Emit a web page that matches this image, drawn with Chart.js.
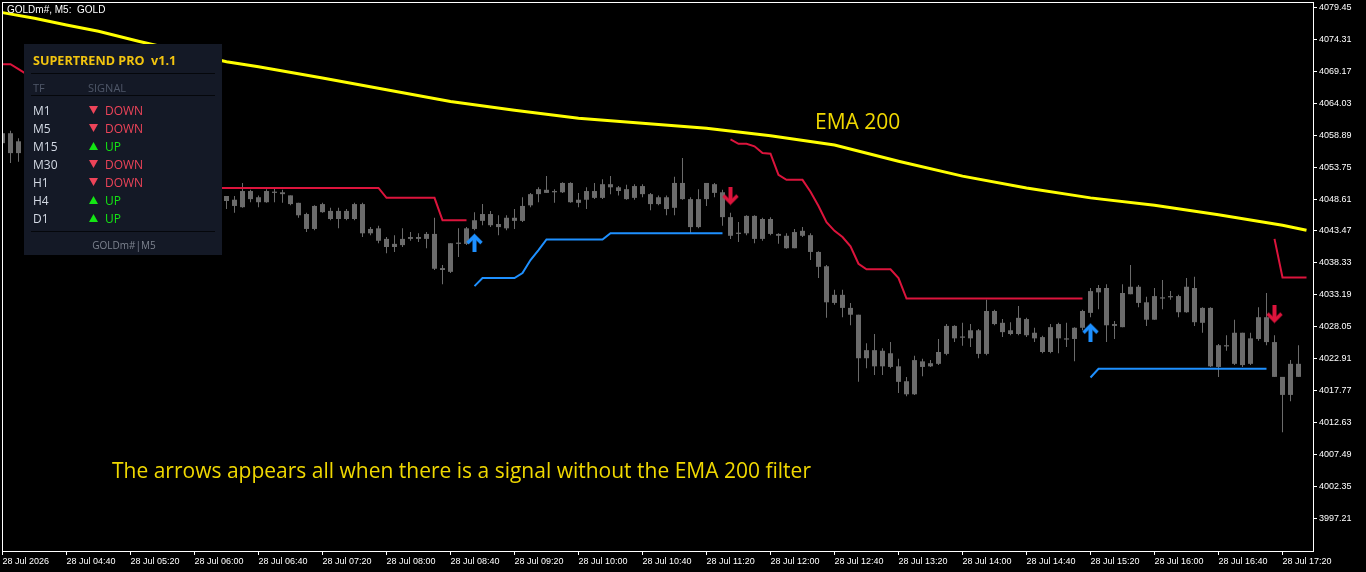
<!DOCTYPE html>
<html>
<head>
<meta charset="utf-8">
<title>GOLDm# M5 - Supertrend Pro</title>
<script src="https://cdn.jsdelivr.net/npm/chart.js@4.4.1/dist/chart.umd.min.js"></script>
<style>
  html, body { margin: 0; padding: 0; background: #000; overflow: hidden; }
</style>
</head>
<body>
<canvas id="chart" width="1366" height="572"></canvas>
<script>
// price scale labels (right side) and time labels (every 8 bars of M5)
const priceTicks = [4079.45, 4074.31, 4069.17, 4064.03, 4058.89, 4053.75, 4048.61, 4043.47, 4038.33,
  4033.19, 4028.05, 4022.91, 4017.77, 4012.63, 4007.49, 4002.35, 3997.21];
const timeTickBars = [0, 8, 16, 24, 32, 40, 48, 56, 64, 72, 80, 88, 96, 104, 112, 120, 128, 136, 144, 152, 160];
const timeTickLabels = ['28 Jul 2026', '28 Jul 04:40', '28 Jul 05:20', '28 Jul 06:00', '28 Jul 06:40',
  '28 Jul 07:20', '28 Jul 08:00', '28 Jul 08:40', '28 Jul 09:20', '28 Jul 10:00', '28 Jul 10:40',
  '28 Jul 11:20', '28 Jul 12:00', '28 Jul 12:40', '28 Jul 13:20', '28 Jul 14:00', '28 Jul 14:40',
  '28 Jul 15:20', '28 Jul 16:00', '28 Jul 16:40', '28 Jul 17:20'];

// candles, one per M5 bar from 04:00 (bars 3-27 sit behind the panel)
const openPx = [
  4057.6, 4059.2, 4056.0, null, null, null, null, null, null, null,
  null, null, null, null, null, null, null, null, null, null,
  null, null, null, null, null, null, null, null, 4049.1, 4048.5,
  4047.3, 4049.9, 4048.1, 4048.1, 4049.8, 4049.7, 4049.2, 4048.0, 4046.2, 4043.8,
  4047.8, 4046.7, 4045.4, 4046.7, 4045.4, 4047.8, 4043.1, 4043.9, 4042.2, 4040.9,
  4041.2, 4042.2, 4042.5, 4042.2, 4043.0, 4037.5, 4036.9, 4041.6, 4041.4, 4043.8,
  4045.1, 4046.2, 4044.6, 4043.9, 4045.6, 4045.1, 4047.6, 4049.4, 4050.1, 4049.7,
  4049.7, 4051.2, 4048.0, 4048.5, 4049.9, 4048.8, 4051.0, 4050.5, 4050.2, 4048.8,
  4050.7, 4049.4, 4047.8, 4048.9, 4047.2, 4051.2, 4048.6, 4044.1, 4048.6, 4051.0,
  4049.7, 4045.7, 4043.2, 4043.1, 4045.9, 4042.2, 4045.4, 4043.0, 4042.7, 4040.7,
  4043.5, 4042.8, 4040.1, 4037.8, 4031.9, 4033.2, 4031.1, 4030.0, 4023.0, 4024.3,
  4021.7, 4023.8, 4021.7, 4019.3, 4017.2, 4022.5, 4021.7, 4022.1, 4023.7, 4028.2,
  4026.3, 4026.2, 4027.5, 4023.7, 4030.6, 4028.7, 4027.5, 4026.9, 4029.3, 4027.1,
  4026.4, 4024.0, 4028.5, 4026.2, 4026.1, 4027.9, 4030.3, 4033.6, 4034.3, 4028.2,
  4028.0, 4033.3, 4034.5, 4032.0, 4029.2, 4032.8, 4032.8, 4033.0, 4030.4, 4034.3,
  4028.7, 4031.1, 4021.6, 4024.9, 4027.1, 4021.9, 4026.2, 4026.1, 4029.6, 4025.6,
  4020.0, 4017.1, 4022.1
];
const highPx = [
  4059.3, 4059.6, 4058.4, null, null, null, null, null, null, null,
  null, null, null, null, null, null, null, null, null, null,
  null, null, null, null, null, null, null, null, 4049.1, 4049.1,
  4051.2, 4050.1, 4049.2, 4050.2, 4050.5, 4050.1, 4049.2, 4048.0, 4046.4, 4047.6,
  4048.0, 4047.2, 4047.2, 4047.0, 4048.0, 4048.0, 4044.1, 4044.3, 4042.5, 4042.8,
  4043.9, 4043.3, 4043.1, 4043.3, 4045.6, 4038.0, 4041.5, 4043.9, 4044.1, 4046.5,
  4047.8, 4046.7, 4046.0, 4046.0, 4047.0, 4048.9, 4049.6, 4050.5, 4052.3, 4050.2,
  4051.3, 4051.3, 4049.6, 4050.5, 4051.2, 4051.8, 4052.3, 4050.7, 4050.9, 4051.0,
  4051.0, 4049.6, 4049.2, 4049.2, 4052.2, 4055.2, 4048.9, 4050.2, 4051.2, 4051.2,
  4050.1, 4046.4, 4044.9, 4046.0, 4046.0, 4045.6, 4045.7, 4043.1, 4043.1, 4043.8,
  4044.1, 4043.1, 4040.2, 4038.0, 4034.0, 4034.0, 4031.9, 4030.0, 4025.4, 4026.9,
  4024.6, 4025.6, 4022.9, 4020.0, 4023.4, 4022.9, 4022.7, 4026.1, 4028.5, 4028.3,
  4028.7, 4028.5, 4027.7, 4032.4, 4030.8, 4029.3, 4028.8, 4031.4, 4029.5, 4027.9,
  4026.6, 4028.5, 4028.7, 4028.7, 4028.0, 4030.8, 4034.3, 4034.8, 4034.9, 4029.0,
  4034.9, 4038.0, 4034.8, 4032.9, 4034.3, 4035.6, 4033.8, 4033.2, 4035.9, 4036.1,
  4031.2, 4031.2, 4025.3, 4026.7, 4029.2, 4027.1, 4027.1, 4031.2, 4033.5, 4026.7,
  4020.0, 4022.7, 4025.1
];
const lowPx = [
  4057.5, 4054.4, 4054.6, null, null, null, null, null, null, null,
  null, null, null, null, null, null, null, null, null, null,
  null, null, null, null, null, null, null, null, 4047.0, 4046.4,
  4047.2, 4048.1, 4047.3, 4048.0, 4048.1, 4048.0, 4047.6, 4045.6, 4043.3, 4043.6,
  4046.4, 4045.2, 4043.9, 4045.2, 4045.2, 4042.5, 4042.8, 4041.5, 4039.9, 4040.1,
  4040.9, 4041.9, 4041.7, 4040.7, 4037.2, 4034.9, 4036.7, 4039.3, 4041.2, 4043.6,
  4044.4, 4044.1, 4042.8, 4043.6, 4043.8, 4044.9, 4047.3, 4048.1, 4049.6, 4048.0,
  4049.6, 4048.0, 4047.3, 4047.0, 4048.6, 4048.6, 4049.4, 4049.2, 4048.5, 4048.5,
  4048.9, 4046.8, 4047.6, 4046.0, 4046.0, 4048.5, 4043.1, 4043.9, 4047.5, 4048.9,
  4044.3, 4042.2, 4041.7, 4042.8, 4041.5, 4041.9, 4042.8, 4041.4, 4040.6, 4040.7,
  4042.5, 4038.8, 4035.9, 4029.5, 4031.6, 4029.6, 4028.3, 4019.2, 4021.4, 4020.3,
  4020.3, 4021.4, 4017.4, 4016.9, 4017.1, 4020.1, 4021.6, 4021.9, 4023.5, 4025.6,
  4025.0, 4024.8, 4023.0, 4023.5, 4028.3, 4026.4, 4026.7, 4026.7, 4026.4, 4025.6,
  4023.8, 4023.8, 4023.8, 4024.8, 4022.5, 4027.5, 4029.6, 4030.9, 4025.6, 4026.1,
  4028.0, 4033.3, 4031.2, 4028.2, 4029.2, 4030.9, 4032.4, 4029.6, 4030.3, 4028.2,
  4027.1, 4021.6, 4020.0, 4024.2, 4021.9, 4021.6, 4021.9, 4025.8, 4025.1, 4020.0,
  4011.1, 4016.1, 4020.0
];
const closePx = [
  4059.2, 4056.0, 4057.9, null, null, null, null, null, null, null,
  null, null, null, null, null, null, null, null, null, null,
  null, null, null, null, null, null, null, null, 4048.3, 4047.5,
  4049.9, 4048.6, 4048.9, 4049.9, 4049.6, 4049.4, 4047.8, 4046.0, 4043.8, 4047.5,
  4046.5, 4045.4, 4046.7, 4045.4, 4047.8, 4043.1, 4043.8, 4041.9, 4040.9, 4041.4,
  4042.2, 4042.5, 4042.2, 4043.0, 4037.4, 4037.2, 4041.5, 4041.4, 4043.9, 4045.2,
  4046.2, 4044.4, 4044.1, 4045.6, 4045.1, 4047.5, 4049.4, 4050.2, 4049.6, 4049.9,
  4051.2, 4048.1, 4048.5, 4049.9, 4048.8, 4051.0, 4050.5, 4049.9, 4048.6, 4050.7,
  4049.4, 4047.8, 4048.9, 4047.0, 4051.2, 4048.6, 4044.1, 4048.6, 4051.2, 4049.6,
  4045.7, 4042.7, 4043.0, 4045.9, 4042.2, 4045.4, 4043.0, 4042.7, 4040.7, 4043.3,
  4042.7, 4040.1, 4037.7, 4032.0, 4033.2, 4031.1, 4030.0, 4023.0, 4024.3, 4021.7,
  4024.2, 4021.6, 4019.2, 4017.2, 4022.7, 4021.6, 4022.2, 4024.0, 4028.2, 4026.2,
  4026.5, 4027.5, 4023.7, 4030.6, 4028.5, 4027.2, 4026.9, 4029.5, 4026.7, 4026.2,
  4024.0, 4028.0, 4026.2, 4026.0, 4027.9, 4030.6, 4033.8, 4034.3, 4028.3, 4028.5,
  4033.5, 4034.5, 4031.9, 4029.2, 4033.0, 4032.6, 4033.0, 4030.4, 4034.5, 4028.8,
  4031.1, 4021.7, 4025.1, 4025.1, 4022.1, 4027.1, 4022.1, 4029.6, 4025.6, 4020.0,
  4017.1, 4022.1, 4020.0
];

// supertrend: red above price (down trend), blue below price (up trend)
const bearLine = [
  4070.3, 4070.3, 4069.5, 4068.7, null, null, null, null, null, null,
  null, null, null, null, null, null, null, null, null, null,
  null, null, null, null, null, null, null, 4050.4, 4050.4, 4050.4,
  4050.4, 4050.4, 4050.4, 4050.4, 4050.4, 4050.4, 4050.4, 4050.4, 4050.4, 4050.4,
  4050.4, 4050.4, 4050.4, 4050.4, 4050.4, 4050.4, 4050.4, 4050.4, 4048.8, 4048.8,
  4048.8, 4048.8, 4048.8, 4048.8, 4048.8, 4045.2, 4045.2, 4045.2, 4045.2, null,
  null, null, null, null, null, null, null, null, null, null,
  null, null, null, null, null, null, null, null, null, null,
  null, null, null, null, null, null, null, null, null, null,
  null, 4058.2, 4057.5, 4057.5, 4057.1, 4056.0, 4055.9, 4052.5, 4051.7, 4051.7,
  4051.7, 4049.8, 4047.5, 4044.9, 4043.5, 4042.5, 4041.0, 4038.2, 4037.3, 4037.3,
  4037.3, 4037.3, 4035.9, 4032.6, 4032.6, 4032.6, 4032.6, 4032.6, 4032.6, 4032.6,
  4032.6, 4032.6, 4032.6, 4032.6, 4032.6, 4032.6, 4032.6, 4032.6, 4032.6, 4032.6,
  4032.6, 4032.6, 4032.6, 4032.6, 4032.6, 4032.6, null, null, null, null,
  null, null, null, null, null, null, null, null, null, null,
  null, null, null, null, null, null, null, null, null, 4042.2,
  4036.0, 4036.0, 4036.0, 4036.0
];
const bullLine = [
  null, null, null, null, null, null, null, null, null, null,
  null, null, null, null, null, null, null, null, null, null,
  null, null, null, null, null, null, null, null, null, null,
  null, null, null, null, null, null, null, null, null, null,
  null, null, null, null, null, null, null, null, null, null,
  null, null, null, null, null, null, null, null, null, 4034.6,
  4035.9, 4035.9, 4035.9, 4035.9, 4035.9, 4036.7, 4038.8, 4040.4, 4042.1, 4042.1,
  4042.1, 4042.1, 4042.1, 4042.1, 4042.1, 4042.1, 4043.1, 4043.1, 4043.1, 4043.1,
  4043.1, 4043.1, 4043.1, 4043.1, 4043.1, 4043.1, 4043.1, 4043.1, 4043.1, 4043.1,
  4043.1, null, null, null, null, null, null, null, null, null,
  null, null, null, null, null, null, null, null, null, null,
  null, null, null, null, null, null, null, null, null, null,
  null, null, null, null, null, null, null, null, null, null,
  null, null, null, null, null, null, 4019.9, 4021.3, 4021.3, 4021.3,
  4021.3, 4021.3, 4021.3, 4021.3, 4021.3, 4021.3, 4021.3, 4021.3, 4021.3, 4021.3,
  4021.3, 4021.3, 4021.3, 4021.3, 4021.3, 4021.3, 4021.3, 4021.3, 4021.3, null,
  null, null, null, null
];

// EMA 200 read at these bars
const emaBars = [0, 4, 8, 12, 17, 28, 32, 40, 48, 56, 64, 72, 80, 88, 96, 104, 112, 120, 128, 136, 144, 152, 160, 163];
const emaValues = [4078.6, 4077.7, 4076.6, 4075.6, 4074.0, 4070.7, 4069.9, 4068.1, 4066.2, 4064.3, 4062.9, 4061.6,
  4060.8, 4060.0, 4058.8, 4057.3, 4054.7, 4052.3, 4050.4, 4048.8, 4047.6, 4046.1, 4044.4, 4043.6];

// signal arrows
const buyArrowBars = [59, 136];
const buyArrowPrice = [4041.6, 4027.2];
const sellArrowBars = [91, 159];
const sellArrowPrice = [4049.1, 4030.1];

// panel rows
const panelTf = ['M1', 'M5', 'M15', 'M30', 'H1', 'H4', 'D1'];
const panelSignal = ['DOWN', 'DOWN', 'UP', 'DOWN', 'DOWN', 'UP', 'UP'];

const candleGray = '#6b6b6b';
const axisFont = { family: '"Liberation Sans", Arial, sans-serif', size: 9 };

const wicks = [];
const bodies = [];
for (let i = 0; i < openPx.length; i++) {
    if (openPx[i] === null) continue;
    wicks.push({ x: i, y: [lowPx[i], highPx[i]] });
    bodies.push({ x: i, y: [openPx[i], closePx[i]] });
}
const toPoints = arr => arr.map((v, i) => ({ x: i, y: v }));

function makeArrow(color, up) {
    const c = document.createElement('canvas');
    c.width = 17;
    c.height = 19;
    const g = c.getContext('2d');
    g.fillStyle = color;
    g.strokeStyle = color;
    if (!up) {
        g.translate(0, 19);
        g.scale(1, -1);
    }
    g.lineWidth = 3.5;
    g.beginPath();
    g.moveTo(1.5, 10);
    g.lineTo(8.5, 3);
    g.lineTo(15.5, 10);
    g.stroke();
    g.fillRect(6.5, 3, 4, 16);
    return c;
}

const blackBg = {
    id: 'blackBg',
    beforeDraw(chart) {
        const ctx = chart.ctx;
        ctx.save();
        ctx.fillStyle = '#000';
        ctx.fillRect(0, 0, chart.width, chart.height);
        ctx.restore();
    }
};

const overlay = {
    id: 'overlay',
    afterDraw(chart) {
        const ctx = chart.ctx;
        const a = chart.chartArea;
        ctx.save();

        // frame
        ctx.strokeStyle = '#ffffff';
        ctx.lineWidth = 1;
        ctx.strokeRect(a.left + 0.5, a.top + 0.5, a.right - a.left, a.bottom - a.top);

        // symbol caption
        ctx.fillStyle = '#ffffff';
        ctx.font = '10px "Liberation Sans", Arial, sans-serif';
        ctx.textBaseline = 'middle';
        ctx.fillText('GOLDm#, M5:  GOLD', 7, 10);

        // notes
        ctx.fillStyle = '#f0d800';
        ctx.font = '21px "Open Sans", sans-serif';
        ctx.fillText('EMA 200', 815, 123);
        ctx.fillText('The arrows appears all when there is a signal without the EMA 200 filter', 112, 472, 700);

        // dashboard panel
        ctx.fillStyle = '#141926';
        ctx.fillRect(24, 44, 198, 211);
        ctx.fillStyle = '#f2c40f';
        ctx.font = 'bold 12.6px "Open Sans", sans-serif';
        ctx.fillText('SUPERTREND PRO  v1.1', 33, 61);
        ctx.fillStyle = '#05070b';
        ctx.fillRect(31, 73, 184, 1);
        ctx.fillRect(31, 95, 184, 1);
        ctx.fillRect(31, 231, 184, 1);
        ctx.fillStyle = '#4f5768';
        ctx.font = '11px "Open Sans", sans-serif';
        ctx.fillText('TF', 33, 89);
        ctx.fillText('SIGNAL', 88, 89);

        ctx.font = '12px "Open Sans", sans-serif';
        panelTf.forEach((tf, k) => {
            const y = 110 + k * 18;
            const up = panelSignal[k] === 'UP';
            ctx.fillStyle = '#d3d9e4';
            ctx.fillText(tf, 33, y + 1.5);
            const col = up ? '#14e614' : '#ee4459';
            ctx.fillStyle = col;
            ctx.beginPath();
            if (up) {
                ctx.moveTo(89, y + 4);
                ctx.lineTo(98, y + 4);
                ctx.lineTo(93.5, y - 4);
            } else {
                ctx.moveTo(89, y - 4);
                ctx.lineTo(98, y - 4);
                ctx.lineTo(93.5, y + 4);
            }
            ctx.closePath();
            ctx.fill();
            ctx.fillText(panelSignal[k], 105, y + 1.5);
        });

        ctx.fillStyle = '#7d838f';
        ctx.font = '10px "Open Sans", sans-serif';
        ctx.textAlign = 'center';
        ctx.fillText('GOLDm#|M5', 124, 246);
        ctx.restore();
    }
};

new Chart(document.getElementById('chart').getContext('2d'), {
    type: 'bar',
    data: {
        datasets: [
            {
                type: 'line',
                label: 'Buy',
                data: buyArrowBars.map((b, k) => ({ x: b, y: buyArrowPrice[k] })),
                showLine: false,
                pointStyle: makeArrow('#1e90ff', true),
                pointRadius: 8,
                order: 0,
            },
            {
                type: 'line',
                label: 'Sell',
                data: sellArrowBars.map((b, k) => ({ x: b, y: sellArrowPrice[k] })),
                showLine: false,
                pointStyle: makeArrow('#dc143c', false),
                pointRadius: 8,
                order: 0,
            },
            {
                type: 'line',
                label: 'Supertrend down',
                data: toPoints(bearLine),
                borderColor: '#dc143c',
                borderWidth: 2,
                pointRadius: 0,
                spanGaps: false,
                tension: 0,
                order: 1,
            },
            {
                type: 'line',
                label: 'Supertrend up',
                data: toPoints(bullLine),
                borderColor: '#1e90ff',
                borderWidth: 2,
                pointRadius: 0,
                spanGaps: false,
                tension: 0,
                order: 1,
            },
            {
                type: 'line',
                label: 'EMA 200',
                data: emaBars.map((b, k) => ({ x: b, y: emaValues[k] })),
                borderColor: '#ffff00',
                borderWidth: 3,
                pointRadius: 0,
                tension: 0,
                order: 2,
            },
            {
                label: 'Body',
                data: bodies,
                backgroundColor: candleGray,
                borderWidth: 0,
                barThickness: 5,
                grouped: false,
                inflateAmount: 0,
                order: 3,
            },
            {
                label: 'Wick',
                data: wicks,
                backgroundColor: candleGray,
                borderWidth: 0,
                barThickness: 1,
                grouped: false,
                inflateAmount: 0,
                order: 4,
            },
        ],
    },
    options: {
        responsive: false,
        animation: false,
        events: [],
        layout: { autoPadding: false, padding: { left: 2, top: 2, right: 0, bottom: 0 } },
        plugins: {
            legend: { display: false },
            tooltip: { enabled: false },
        },
        scales: {
            x: {
                type: 'linear',
                position: 'bottom',
                min: -0.0625,
                max: 163.8125,
                bounds: 'data',
                offset: false,
                border: { display: false },
                grid: { drawOnChartArea: false, offset: false, tickLength: 4, color: '#ffffff', tickColor: '#ffffff' },
                ticks: {
                    color: '#ffffff',
                    font: axisFont,
                    padding: 1,
                    align: 'start',
                    autoSkip: false,
                    maxRotation: 0,
                    minRotation: 0,
                    callback: (v, i) => timeTickLabels[i],
                },
                afterBuildTicks: s => { s.ticks = timeTickBars.map(v => ({ value: v })); },
                afterFit: s => { s.height = 21; s.paddingLeft = 0; s.paddingRight = 0; },
            },
            y: {
                position: 'right',
                min: 3991.99,
                max: 4080.31,
                bounds: 'data',
                border: { display: false },
                grid: { drawOnChartArea: false, tickLength: 4, color: '#ffffff', tickColor: '#ffffff' },
                ticks: {
                    color: '#ffffff',
                    font: axisFont,
                    padding: 2,
                    autoSkip: false,
                    callback: v => v.toFixed(2),
                },
                afterBuildTicks: s => { s.ticks = priceTicks.map(v => ({ value: v })); },
                afterFit: s => { s.width = 53; s.paddingTop = 0; s.paddingBottom = 0; },
            },
        },
    },
    plugins: [blackBg, overlay],
});
</script>
</body>
</html>
